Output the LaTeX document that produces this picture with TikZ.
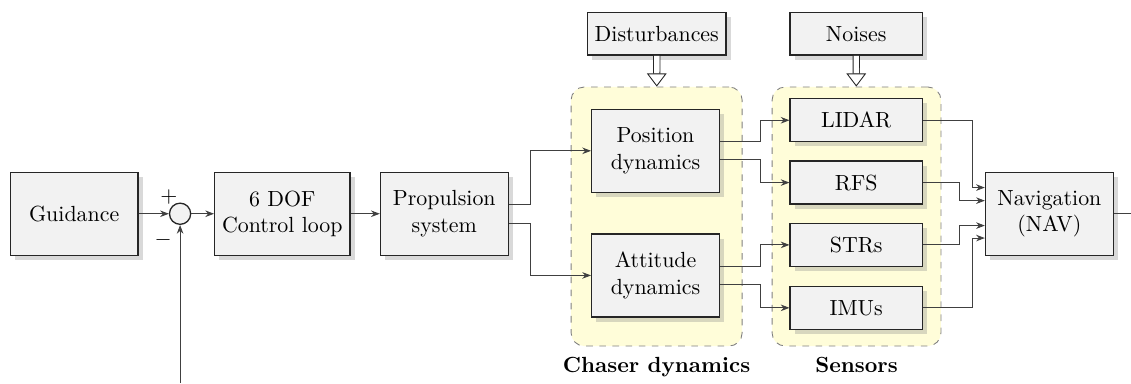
\documentclass[tikz,border=0pt]{standalone}
\usetikzlibrary{positioning,arrows.meta,shadows,fit,backgrounds}

\begin{document}
\begin{tikzpicture}
  [block/.style={draw=black!85, semithick, fill=gray!10, drop shadow={opacity=0.3},
     minimum width=2.05cm, minimum height=1.33cm, align=center},
   sensor/.style={block, minimum width=2.12cm, minimum height=0.69cm},
   sum/.style={draw=black!85, semithick, fill=gray!10, circle, minimum size=0.34cm, inner sep=0pt},
   group/.style={draw=gray, dashed, fill=yellow!15, rounded corners=6pt, inner sep=0pt},
   grouplabel/.style={font=\bfseries, text height=1.6ex, text depth=0.45ex},
   line/.style={draw=black!75, -{Stealth[length=4pt,width=3pt]}},
   wire/.style={draw=black!75},
   heavy/.style={draw=black!85, double, double distance=2.5pt,
     -{Triangle[open,length=6pt,width=9pt]}}]
  \useasboundingbox (0,0) rectangle (18.15,-6.147);

  % main chain
  \node[block] (guid) at (1.19,-3.43) {Guidance};
  \node[sum] (sum) at (2.89,-3.43) {};
  \node[inner sep=0pt] (plus) at ([shift={(-0.18,0.27)}]sum.center) {$+$};
  \node[inner sep=0pt] (minus) at ([shift={(-0.27,-0.42)}]sum.center) {$-$};
  \node[block] (ctrl) at (4.53,-3.43) {6 DOF\\Control loop};
  \node[block] (prop) at (7.13,-3.43) {Propulsion\\system};

  % chaser dynamics
  \node[block] (pos) at (10.52,-2.42) {Position\\dynamics};
  \node[block] (att) at (10.52,-4.42) {Attitude\\dynamics};
  \node[sensor] (dist) at (10.54,-0.54) {Disturbances};

  % sensors
  \node[sensor] (noise) at (13.74,-0.54) {Noises};
  \node[sensor] (lidar) at (13.74,-1.93) {LIDAR};
  \node[sensor] (rfs) at (13.74,-2.93) {RFS};
  \node[sensor] (strs) at (13.74,-3.93) {STRs};
  \node[sensor] (imus) at (13.74,-4.94) {IMUs};

  \node[block] (nav) at (16.84,-3.43) {Navigation\\(NAV)};

  % groups
  \begin{scope}[on background layer]
    \node[group, fit={(9.165,-1.396) (11.91,-5.553)}] (chaser) {};
    \node[group, fit={(12.39,-1.396) (15.10,-5.553)}] (sens) {};
  \end{scope}
  \node[grouplabel, below=1.5pt of chaser] (chaserlbl) {Chaser dynamics};
  \node[grouplabel, below=1.5pt of sens] (senslbl) {Sensors};

  \coordinate (fb) at (2.89,-6.147);
  \coordinate (navout) at (18.15,-3.43);

  % connections
  \draw[line] (guid) -- (sum);
  \draw[line] (sum) -- (ctrl);
  \draw[line] (ctrl) -- (prop);
  \draw[line] (fb) -- (sum);
  \draw[line] ([yshift=0.15cm]prop.east) -- ++(0.34,0) |- (pos);
  \draw[line] ([yshift=-0.15cm]prop.east) -- ++(0.34,0) |- (att);
  \draw[line] ([yshift=0.145cm]pos.east) -- ++(0.64,0) |- (lidar);
  \draw[line] ([yshift=-0.145cm]pos.east) -- ++(0.64,0) |- (rfs);
  \draw[line] ([yshift=0.145cm]att.east) -- ++(0.64,0) |- (strs);
  \draw[line] ([yshift=-0.145cm]att.east) -- ++(0.64,0) |- (imus);
  \draw[line] (lidar.east) -- ++(0.8,0) |- ([yshift=0.42cm]nav.west);
  \draw[line] (rfs.east) -- ++(0.59,0) |- ([yshift=0.21cm]nav.west);
  \draw[line] (strs.east) -- ++(0.59,0) |- ([yshift=-0.19cm]nav.west);
  \draw[line] (imus.east) -- ++(0.8,0) |- ([yshift=-0.39cm]nav.west);
  \draw[wire] (nav) -- (navout);
  \draw[heavy] (dist) -- (chaser);
  \draw[heavy] (noise) -- (sens);
\end{tikzpicture}
\end{document}
